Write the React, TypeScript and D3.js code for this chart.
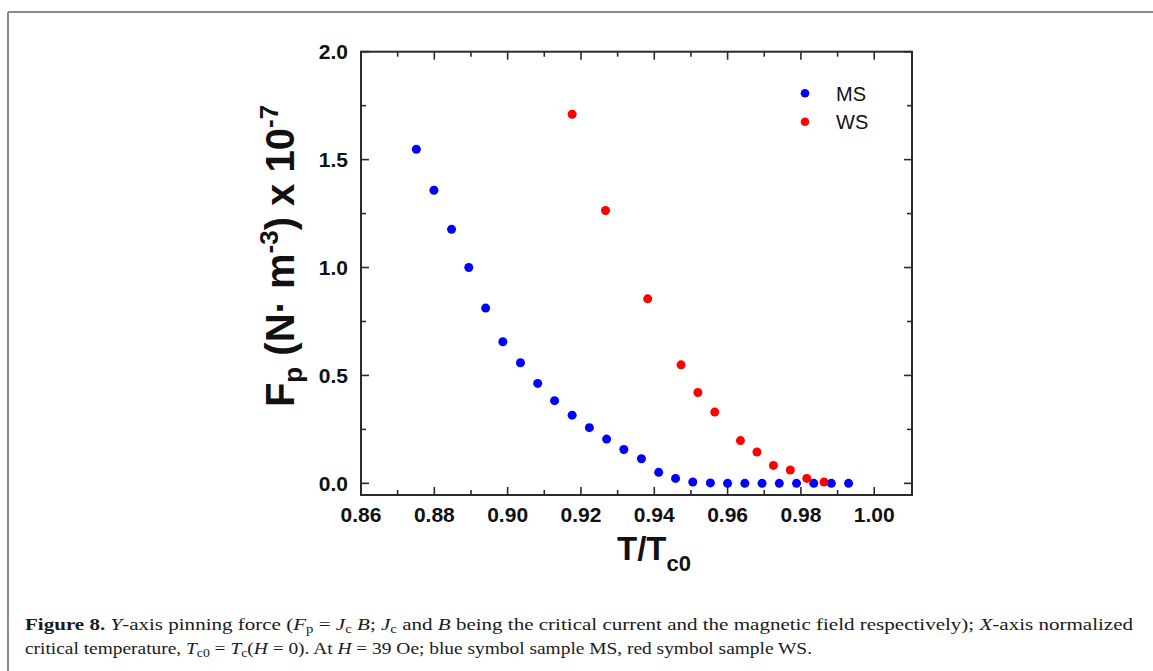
import React from "react";
import * as d3 from "d3";

const msT = [0.8751, 0.8799, 0.8847, 0.8894, 0.894, 0.8987, 0.9035, 0.9082, 0.9128, 0.9176, 0.9223, 0.927, 0.9317, 0.9365, 0.9412, 0.9458, 0.9505, 0.9553, 0.96, 0.9647, 0.9694, 0.9741, 0.9788, 0.9835, 0.9883, 0.993];
const msF = [1.548, 1.358, 1.177, 1.0, 0.812, 0.656, 0.559, 0.463, 0.383, 0.316, 0.258, 0.205, 0.157, 0.114, 0.051, 0.023, 0.006, 0.002, 0.0, 0.0, 0.0, 0.0, 0.0, 0.0, 0.0, 0.0];
const wsT = [0.9176, 0.9267, 0.9382, 0.9473, 0.9519, 0.9565, 0.9635, 0.968, 0.9725, 0.9771, 0.9816, 0.9863];
const wsF = [1.71, 1.264, 0.855, 0.549, 0.421, 0.33, 0.198, 0.145, 0.083, 0.062, 0.023, 0.006];
const xTicks = [0.86, 0.88, 0.9, 0.92, 0.94, 0.96, 0.98, 1.0];
const xMinor = [0.87, 0.89, 0.91, 0.93, 0.95, 0.97, 0.99];
const yTicks = [0.0, 0.5, 1.0, 1.5, 2.0];
const yMinor = [0.25, 0.75, 1.25, 1.75];
const seriesNames = ["MS", "WS"];
const seriesColors = ["#0000ff", "#ff0000"];

export default function App() {
  const L = 361, R = 912, T = 51.7, B = 495;
  const x = d3.scaleLinear().domain([0.86, 1.0103]).range([L, R]);
  const y = d3.scaleLinear().domain([-0.054, 2.0]).range([B, T]);
  const axisFont = "Arial, 'Liberation Sans', sans-serif";
  const serif = "'Liberation Serif', 'Times New Roman', serif";
  const frame = "#2a2a2a";
  const majorLen = 8, minorLen = 5;
  const series = [
    { t: msT, f: msF },
    { t: wsT, f: wsF },
  ];
  return (
    <svg width={1153} height={671} style={{ position: "absolute", left: 0, top: 0, background: "#fff" }}>
      <rect x={0} y={0} width={1153} height={671} fill="#fff" />
      {/* page border */}
      <line x1={8} y1={12} x2={1153} y2={12} stroke="#8a8a8a" strokeWidth={2} />
      <line x1={8} y1={12} x2={8} y2={671} stroke="#8a8a8a" strokeWidth={2} />

      {/* ticks */}
      <g stroke={frame} strokeWidth={1.6}>
        {xTicks.map((v) => (
          <g key={"xt" + v}>
            <line x1={x(v)} x2={x(v)} y1={B} y2={B - majorLen} />
            <line x1={x(v)} x2={x(v)} y1={T} y2={T + majorLen} />
          </g>
        ))}
        {xMinor.map((v) => (
          <g key={"xm" + v}>
            <line x1={x(v)} x2={x(v)} y1={B} y2={B - minorLen} />
            <line x1={x(v)} x2={x(v)} y1={T} y2={T + minorLen} />
          </g>
        ))}
        {yTicks.map((v) => (
          <g key={"yt" + v}>
            <line x1={L} x2={L + majorLen} y1={y(v)} y2={y(v)} />
            <line x1={R} x2={R - majorLen} y1={y(v)} y2={y(v)} />
          </g>
        ))}
        {yMinor.map((v) => (
          <g key={"ym" + v}>
            <line x1={L} x2={L + minorLen} y1={y(v)} y2={y(v)} />
            <line x1={R} x2={R - minorLen} y1={y(v)} y2={y(v)} />
          </g>
        ))}
      </g>
      <rect x={L} y={T} width={R - L} height={B - T} fill="none" stroke={frame} strokeWidth={2} />

      {/* tick labels */}
      <g fontFamily={axisFont} fontWeight="bold" fontSize={21} fill="#111">
        {xTicks.map((v) => (
          <text key={"xl" + v} x={x(v)} y={522} textAnchor="middle">
            {v.toFixed(2)}
          </text>
        ))}
        {yTicks.map((v) => (
          <text key={"yl" + v} x={348} y={y(v) + 7.5} textAnchor="end">
            {v.toFixed(1)}
          </text>
        ))}
      </g>

      {/* axis titles */}
      <text x={617} y={560} fontFamily={axisFont} fontWeight="bold" fontSize={33} fill="#111">
        T/T<tspan fontSize={22} dy={11}>c0</tspan>
      </text>
      <text
        transform="translate(294,256) rotate(-90)"
        textAnchor="middle"
        fontFamily={axisFont}
        fontWeight="bold"
        fontSize={40}
        fill="#111"
      >
        F<tspan fontSize={26} dy={8}>p</tspan>
        <tspan dy={-8}> (N· m</tspan>
        <tspan fontSize={26} dy={-16}>-3</tspan>
        <tspan dy={16}>) x 10</tspan>
        <tspan fontSize={26} dy={-16}>-7</tspan>
      </text>

      {/* points */}
      {series.map((s, si) => (
        <g key={"s" + si} fill={seriesColors[si]}>
          {s.t.map((t, i) => (
            <circle key={i} cx={x(t)} cy={y(s.f[i])} r={4.5} />
          ))}
        </g>
      ))}

      {/* legend */}
      {seriesNames.map((n, i) => (
        <g key={"lg" + n}>
          <circle cx={805} cy={93.3 + i * 28.4} r={4.3} fill={seriesColors[i]} />
          <text x={836} y={101 + i * 28.4} fontFamily={axisFont} fontSize={20} fill="#111">
            {n}
          </text>
        </g>
      ))}

      {/* caption */}
      <text x={25} y={630} fontFamily={serif} fontSize={17} fill="#1a1a1a" textLength={1108} lengthAdjust="spacingAndGlyphs">
        <tspan fontWeight="bold">Figure 8.</tspan> <tspan fontStyle="italic">Y</tspan>-axis pinning force (
        <tspan fontStyle="italic">F</tspan>
        <tspan fontSize={12} dy={3}>p</tspan>
        <tspan dy={-3}> = </tspan>
        <tspan fontStyle="italic">J</tspan>
        <tspan fontSize={12} dy={3}>c</tspan>
        <tspan dy={-3} fontStyle="italic"> B</tspan>
        <tspan>; </tspan>
        <tspan fontStyle="italic">J</tspan>
        <tspan fontSize={12} dy={3}>c</tspan>
        <tspan dy={-3}> and </tspan>
        <tspan fontStyle="italic">B</tspan>
        <tspan> being the critical current and the magnetic field respectively); </tspan>
        <tspan fontStyle="italic">X</tspan>
        <tspan>-axis normalized</tspan>
      </text>
      <text x={25} y={654} fontFamily={serif} fontSize={17} fill="#1a1a1a" textLength={787} lengthAdjust="spacingAndGlyphs">
        <tspan>critical temperature, </tspan>
        <tspan fontStyle="italic">T</tspan>
        <tspan fontSize={12} dy={3}>c0</tspan>
        <tspan dy={-3}> = </tspan>
        <tspan fontStyle="italic">T</tspan>
        <tspan fontSize={12} dy={3}>c</tspan>
        <tspan dy={-3}>(</tspan>
        <tspan fontStyle="italic">H</tspan>
        <tspan> = 0). At </tspan>
        <tspan fontStyle="italic">H</tspan>
        <tspan> = 39 Oe; blue symbol sample MS, red symbol sample WS.</tspan>
      </text>
    </svg>
  );
}
